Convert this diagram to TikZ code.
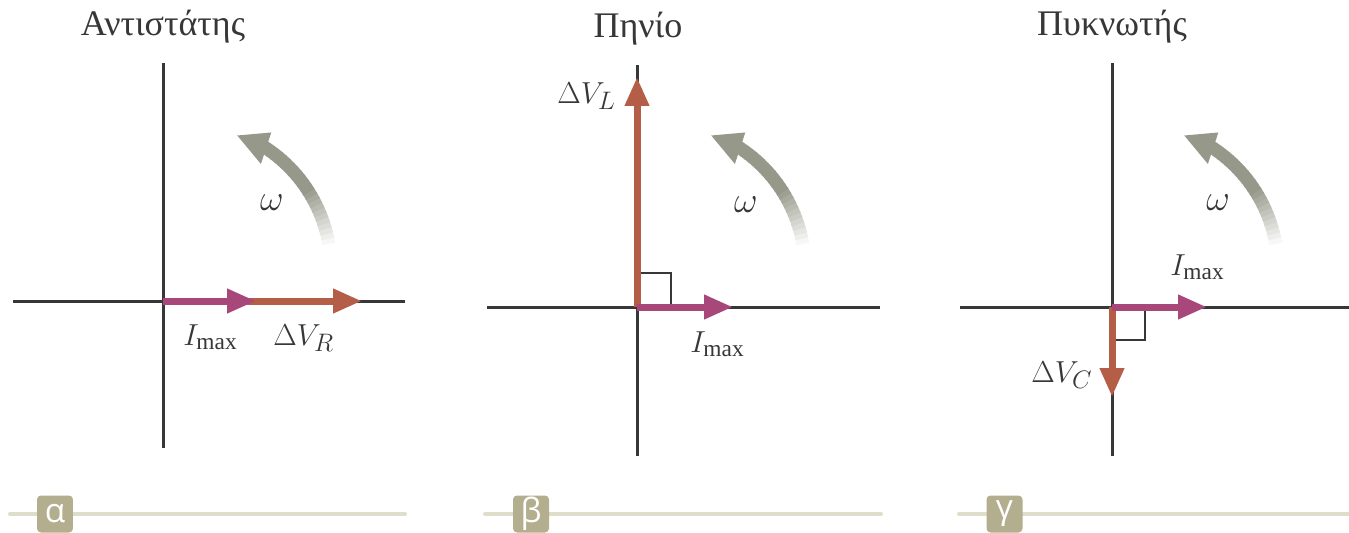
\documentclass[tikz,border=0pt]{standalone}
\usepackage{fontspec}
\setmainfont{Liberation Serif}
\newfontfamily\tagfont{Open Sans}
\usetikzlibrary{arrows.meta}
\definecolor{axisgray}{RGB}{55,55,55}
\definecolor{currentpink}{RGB}{168,72,122}
\definecolor{voltred}{RGB}{180,94,72}
\definecolor{omegagray}{RGB}{150,152,138}
\definecolor{bartan}{RGB}{223,222,203}
\definecolor{tagtan}{RGB}{178,174,142}
\begin{document}
\begin{tikzpicture}[x=0.02cm,y=0.02cm,
  axis/.style={draw=axisgray,line width=0.06cm},
  phasor/.style={line width=0.14cm,-{Triangle[length=0.58cm,width=0.46cm]}},
  rightangle/.style={draw=axisgray,line width=0.03cm},
  title/.style={anchor=base,inner sep=0pt,text=axisgray,font=\fontsize{20.5}{24}\selectfont},
  lbl/.style={anchor=base west,inner sep=0pt,text=axisgray,font=\fontsize{19}{22}\selectfont},
  omegalbl/.style={anchor=base,inner sep=0pt,text=axisgray,font=\fontsize{21}{24}\selectfont},
  bar/.style={draw=bartan,line width=0.08cm,line cap=round},
  tag/.style={fill=tagtan,rounded corners=0.08cm,minimum width=0.72cm,minimum height=0.74cm,inner sep=0pt,text=white,font=\tagfont\fontsize{19}{20}\selectfont}]
\useasboundingbox (0,0) rectangle (1349,532);

\coordinate (Oa) at (163,231);
\coordinate (La) at (13,231);
\coordinate (Ra) at (405,231);
\coordinate (Ta) at (163,469);
\coordinate (Ba) at (163,84);
\coordinate (Ia) at (256,231);
\coordinate (Va) at (362,231);

\coordinate (Ob) at (637,225);
\coordinate (Lb) at (487,225);
\coordinate (Rb) at (880,225);
\coordinate (Tb) at (637,467);
\coordinate (Bb) at (637,76);
\coordinate (Ib) at (733,225);
\coordinate (Vb) at (637,455);

\coordinate (Og) at (1112,225);
\coordinate (Lg) at (960,225);
\coordinate (Rg) at (1349,225);
\coordinate (Tg) at (1112,469);
\coordinate (Bg) at (1112,76);
\coordinate (Ig) at (1207,225);
\coordinate (Vg) at (1112,135);

\draw[axis] (La) -- (Ra);
\draw[axis] (Ta) -- (Ba);
\draw[axis] (Lb) -- (Rb);
\draw[axis] (Tb) -- (Bb);
\draw[axis] (Lg) -- (Rg);
\draw[axis] (Tg) -- (Bg);

\draw[rightangle] (Ob) ++(0,34) -- ++(34,0) -- ++(0,-34);
\draw[rightangle] (Og) ++(0,-33) -- ++(33,0) -- ++(0,33);

\draw[phasor,voltred] (Oa) -- (Va);
\draw[phasor,currentpink] (Oa) -- (Ia);
\draw[phasor,voltred] (Ob) -- (Vb);
\draw[phasor,currentpink] (Ob) -- (Ib);
\draw[phasor,voltred] (Og) -- (Vg);
\draw[phasor,currentpink] (Og) -- (Ig);

\foreach \cx in {186,660,1133} {
  \foreach \a in {8,10,...,56} {
    \pgfmathtruncatemacro\p{min(100,(\a-8)*4.2)}
    \draw[draw=omegagray!\p!white,line width=0.26cm] (\cx,263) ++(\a:145) arc (\a:\a+2.6:145);
  }
  \begin{scope}[shift={(\cx,263)}]
    \fill[omegagray] (69:143) -- (58:161) -- (54.5:129) -- cycle;
  \end{scope}
}

\node[title] (ta) at (163,497) {Αντιστάτης};
\node[title] (tb) at (638,495) {Πηνίο};
\node[title] (tg) at (1112,497) {Πυκνωτής};

\node[lbl] (ia) at (183,187) {$I_{\mathrm{max}}$};
\node[lbl] (va) at (273,187) {$\Delta V_R$};
\node[lbl] (vb) at (557,429) {$\Delta V_L$};
\node[lbl] (ib) at (690,180) {$I_{\mathrm{max}}$};
\node[lbl] (ig) at (1170,257) {$I_{\mathrm{max}}$};
\node[lbl] (vg) at (1031,150) {$\Delta V_C$};

\node[omegalbl] (wa) at (272,322) {$\omega$};
\node[omegalbl] (wb) at (746,320) {$\omega$};
\node[omegalbl] (wg) at (1218,322) {$\omega$};

\draw[bar] (10,18) -- (405,18);
\draw[bar] (485,18) -- (881,18);
\draw[bar] (959,18) -- (1349,18);
\node[tag] (ka) at (55,18) {α};
\node[tag] (kb) at (531,18) {β};
\node[tag] (kg) at (1004.5,18) {γ};
\end{tikzpicture}
\end{document}
